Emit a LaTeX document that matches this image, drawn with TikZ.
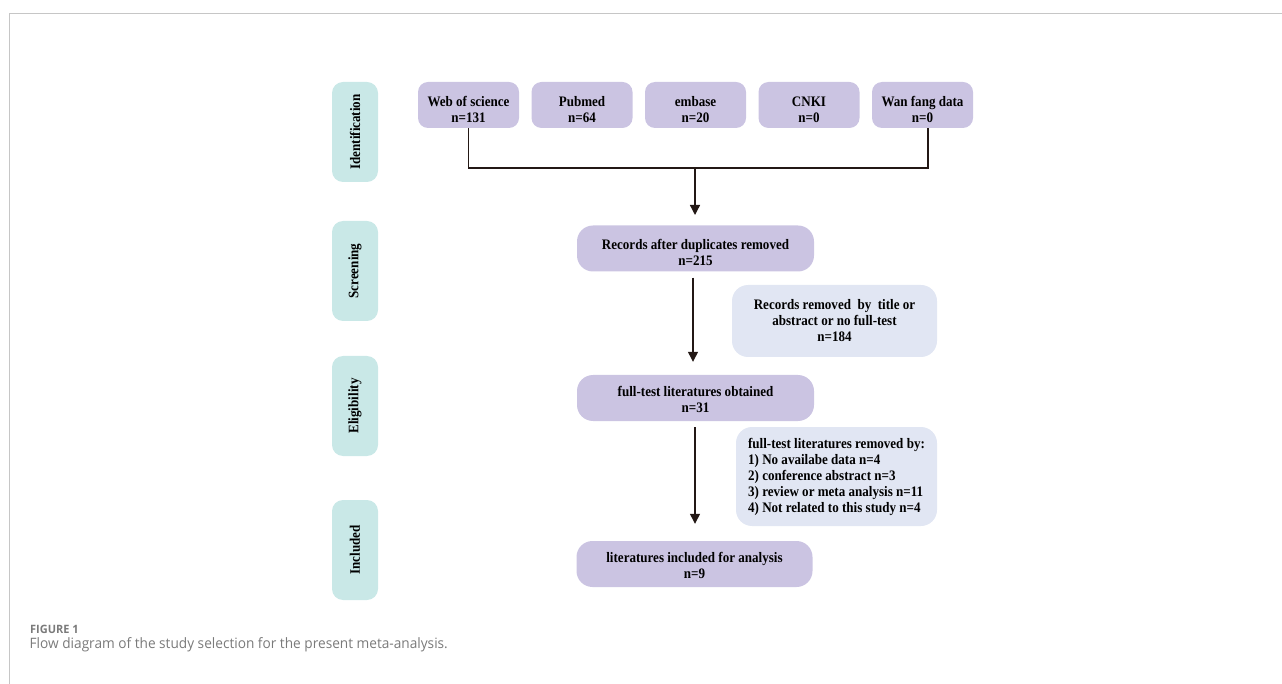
\documentclass[tikz,border=0pt]{standalone}
\usepackage{fontspec}
\setmainfont{Liberation Serif}
\newfontfamily\boxfont[FakeStretch=0.9]{Liberation Serif}
\newfontfamily\capfont[FakeStretch=0.955]{Open Sans}
\usetikzlibrary{arrows.meta}
\definecolor{lav}{HTML}{CBC4E2}
\definecolor{teal}{HTML}{C9E8E7}
\definecolor{lblue}{HTML}{E1E6F3}
\definecolor{framegray}{HTML}{C6C6C6}
\definecolor{capgray}{HTML}{7A7A7A}
\definecolor{linec}{HTML}{231815}
\newcommand\tpad[1]{\rule{0pt}{#1}}
\tikzset{
  bfont/.style={font=\boxfont\fontsize{14.5}{16}\selectfont\bfseries},
  stagebox/.style={bfont, fill=teal, rounded corners=11pt, minimum width=100pt, minimum height=46pt, rotate=90, inner sep=0pt},
  srcbox/.style={bfont, fill=lav, rounded corners=10pt, minimum width=101pt, minimum height=46pt, inner sep=0pt, align=center},
  mainbox/.style={bfont, fill=lav, rounded corners=16pt, minimum width=237pt, minimum height=46pt, inner sep=0pt, align=center},
  exbox/.style={bfont, fill=lblue, rounded corners=16pt, inner sep=0pt},
  conn/.style={draw=linec, line width=1.3pt},
  arr/.style={conn, -{Triangle[length=10pt,width=10pt]}}
}
\begin{document}
\begin{tikzpicture}[x=1pt,y=-1pt]
\useasboundingbox (0,0) rectangle (1282,684);
\draw[framegray, line width=1pt] (9,684) -- (9,14) -- (1282,14);

% stage labels
\node[stagebox] (ident) at (355,132) {Identification};
\node[stagebox] (screen) at (355,271) {Screening};
\node[stagebox] (elig) at (355,406) {Eligibility};
\node[stagebox] (incl) at (355,550) {Included};

% sources
\node[srcbox] (wos) at (468.5,105) {\tpad{20pt}Web of science\\n=131};
\node[srcbox] (pub) at (582,105) {\tpad{20pt}Pubmed\\n=64};
\node[srcbox] (emb) at (695.5,105) {\tpad{20pt}embase\\n=20};
\node[srcbox] (cnki) at (809,105) {\tpad{20pt}CNKI\\n=0};
\node[srcbox] (wan) at (922.5,105) {\tpad{20pt}Wan fang data\\n=0};

% main flow
\node[mainbox] (rec) at (695.5,248.5) {\tpad{19pt}Records after duplicates removed\\n=215};
\node[mainbox] (full) at (695.5,398) {\tpad{14pt}full-test literatures obtained\\n=31};
\node[mainbox, minimum width=236pt] (fin) at (694.5,564) {\tpad{13pt}literatures included for analysis\\n=9};

% exclusion boxes
\node[exbox, minimum width=205pt, minimum height=72pt, align=center] (ex1) at (834.5,321) {Records removed \ by \ title or\\abstract or no full-test\\n=184};
\node[exbox, minimum width=201pt, minimum height=99pt, align=left] (ex2) at (836.5,476.5) {full-test literatures removed by:\\1) No availabe data n=4\\2) conference abstract n=3\\3) review or meta analysis n=11\\4) Not related to this study n=4};

% connectors
\coordinate (join) at (695,168);
\coordinate (tip0) at (695,215);
\draw[conn] (wos.south) -- (wos.south |- join) -- ([xshift=5.5pt]wan.south |- join) -- ([xshift=5.5pt]wan.south);
\draw[arr] (join) -- (tip0);
\draw[arr] ([xshift=-2.5pt,yshift=-6pt]rec.south) -- ([xshift=-2.5pt,yshift=13pt]full.north);
\draw[arr] ([xshift=-0.5pt,yshift=-6pt]full.south) -- ([xshift=0.5pt,yshift=17pt]fin.north);

% caption
\node[anchor=base west, inner sep=0pt, text=capgray, font=\capfont\fontsize{11.5}{13}\selectfont\bfseries] (figlab) at (30,633.5) {FIGURE 1};
\node[anchor=base west, inner sep=0pt, text=capgray, font=\capfont\fontsize{14.3}{16}\selectfont] (cap) at (29.5,648.5) {Flow diagram of the study selection for the present meta-analysis.};
\end{tikzpicture}
\end{document}
